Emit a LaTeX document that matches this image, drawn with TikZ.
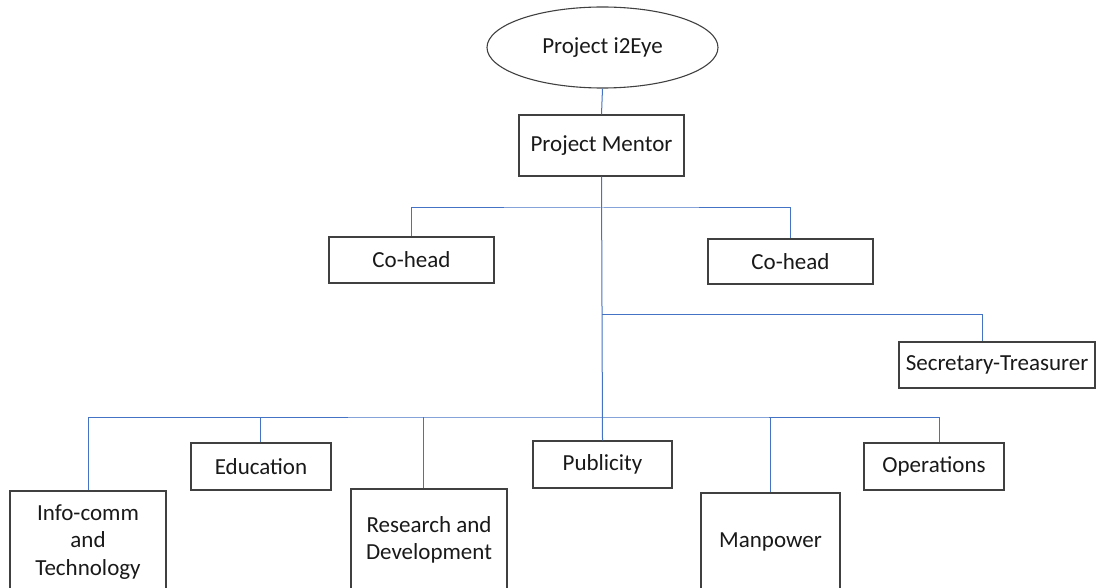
\documentclass[tikz,border=0pt]{standalone}
\usepackage{fontspec}
\setmainfont{Carlito}
\usetikzlibrary{shapes.geometric}
\definecolor{linkblue}{HTML}{4472C4}
\definecolor{boxgray}{HTML}{404040}
\begin{document}
\begin{tikzpicture}[x=1pt,y=-1pt,
  font=\fontsize{23}{27.5}\selectfont,
  box/.style={draw=boxgray, line width=1.1pt, inner sep=0pt, align=center, text=black!90},
  link/.style={draw=linkblue, line width=1pt}]
\useasboundingbox (0,0) rectangle (1097,588);
\clip (0,0) rectangle (1097,588);
% nodes
\node[box, ellipse, minimum width=231pt, minimum height=81pt] (top) at (602.5,47.5) {Project i2Eye};
\node[box, minimum width=165pt, minimum height=61pt] (mentor) at (601.5,145.5) {Project Mentor};
\node[box, minimum width=165pt, minimum height=46pt] (coL) at (411.5,260) {Co-head};
\node[box, minimum width=165pt, minimum height=45pt] (coR) at (790.5,261.5) {Co-head};
\node[box, minimum width=196pt, minimum height=46pt] (sec) at (997,365) {Secretary-Treasurer};
\node[box, minimum width=156pt, minimum height=102pt] (info) at (88,542) {Info-comm\\and\\Technology};
\node[box, minimum width=140pt, minimum height=47pt] (edu) at (261,466.5) {Education};
\node[box, minimum width=156pt, minimum height=102pt] (rd) at (429,540) {Research and\\Development};
\node[box, minimum width=139pt, minimum height=47pt] (pub) at (602.5,464.5) {Publicity};
\node[box, minimum width=139pt, minimum height=98pt] (man) at (770.5,542) {Manpower};
\node[box, minimum width=140pt, minimum height=47pt] (ops) at (934,466.5) {Operations};
% junctions on the trunk
\coordinate (j1) at (602,208);
\coordinate (j2) at (602,314);
\coordinate (j3) at (602,417);
% connectors
\draw[link] (top.south) -- (mentor.north);
\draw[link] (mentor.south) -- (pub.north);
\draw[link] (coL.north) |- (j1) -| (coR.north);
\draw[link] (j2) -| ([xshift=-15pt]sec.north);
\draw[link] (info.north) |- (j3) -| ([xshift=5pt]ops.north);
\draw[link] ([xshift=-1pt]edu.north) -- ([xshift=-1pt]edu.north |- j3);
\draw[link] ([xshift=-6pt]rd.north) -- ([xshift=-6pt]rd.north |- j3);
\draw[link] (man.north) -- (man.north |- j3);
\end{tikzpicture}
\end{document}
